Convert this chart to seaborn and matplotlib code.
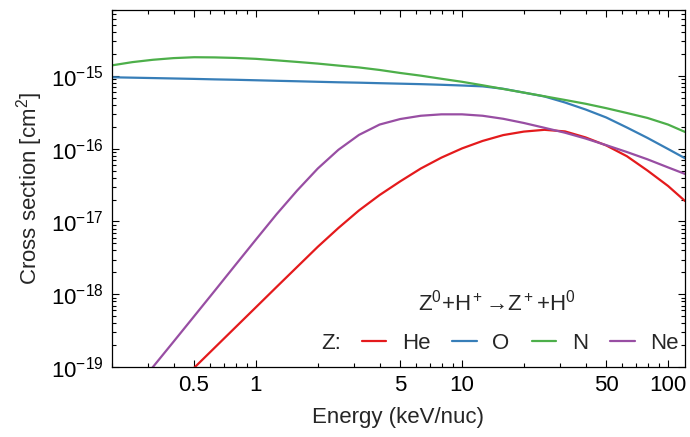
import numpy as np
import pandas as pd
import matplotlib
matplotlib.use("Agg")
import matplotlib.pyplot as plt
import matplotlib.ticker as mticker
from matplotlib.lines import Line2D
import seaborn as sns

# ---- data ----
energy = [0.2, 0.251, 0.316, 0.398, 0.501, 0.631, 0.794, 1.0, 1.259, 1.585, 1.995, 2.512, 3.162,
          3.981, 5.012, 6.31, 7.943, 10.0, 12.59, 15.85, 19.95, 25.12, 31.62, 39.81, 50.12, 63.1,
          79.43, 100.0, 121.0]

sigma_n = [1.40e-15, 1.55e-15, 1.67e-15, 1.76e-15, 1.81e-15, 1.80e-15, 1.77e-15, 1.72e-15, 1.64e-15,
           1.56e-15, 1.48e-15, 1.39e-15, 1.31e-15, 1.21e-15, 1.10e-15, 1.01e-15, 9.15e-16, 8.32e-16,
           7.45e-16, 6.63e-16, 5.91e-16, 5.26e-16, 4.68e-16, 4.15e-16, 3.61e-16, 3.10e-16, 2.65e-16,
           2.15e-16, 1.70e-16]

sigma_o = [9.60e-16, 9.48e-16, 9.36e-16, 9.24e-16, 9.12e-16, 8.98e-16, 8.87e-16, 8.73e-16, 8.59e-16,
           8.46e-16, 8.32e-16, 8.19e-16, 8.09e-16, 7.96e-16, 7.84e-16, 7.72e-16, 7.57e-16, 7.40e-16,
           7.20e-16, 6.67e-16, 5.91e-16, 5.23e-16, 4.32e-16, 3.46e-16, 2.69e-16, 1.96e-16, 1.41e-16,
           9.92e-17, 7.39e-17]

# Ne starts at the 2nd energy point, He at the 4th
sigma_ne = [4.52e-20, 1.00e-19, 2.23e-19, 4.99e-19, 1.12e-18, 2.52e-18, 5.66e-18, 1.26e-17, 2.67e-17,
            5.35e-17, 9.67e-17, 1.55e-16, 2.15e-16, 2.56e-16, 2.84e-16, 2.97e-16, 2.97e-16, 2.84e-16,
            2.58e-16, 2.26e-16, 1.94e-16, 1.66e-16, 1.38e-16, 1.12e-16, 9.02e-17, 7.16e-17, 5.54e-17,
            4.50e-17]

sigma_he = [5.14e-20, 9.75e-20, 1.85e-19, 3.50e-19, 6.64e-19, 1.26e-18, 2.38e-18, 4.49e-18, 8.14e-18,
            1.42e-17, 2.31e-17, 3.56e-17, 5.35e-17, 7.55e-17, 1.01e-16, 1.28e-16, 1.54e-16, 1.72e-16,
            1.82e-16, 1.73e-16, 1.43e-16, 1.11e-16, 7.90e-17, 5.02e-17, 3.08e-17, 1.91e-17]

elements = ["He", "O", "N", "Ne"]
x_major = [0.5, 1, 5, 10, 50, 100]
x_major_labels = ["0.5", "1", "5", "10", "50", "100"]
x_minor = [0.2, 0.3, 0.4, 0.6, 0.7, 0.8, 0.9, 2, 3, 4, 6, 7, 8, 9, 20, 30, 40, 60, 70, 80, 90]
y_major = [1e-19, 1e-18, 1e-17, 1e-16, 1e-15]

series = {"He": sigma_he, "O": sigma_o, "N": sigma_n, "Ne": sigma_ne}
frames = []
for name in elements:
    s = series[name]
    e = energy[len(energy) - len(s):]
    frames.append(pd.DataFrame({"E": e, "sigma": s, "Z": name}))
df = pd.concat(frames, ignore_index=True)

sns.set_style("ticks")
plt.rcParams["font.family"] = ["Liberation Sans", "DejaVu Sans"]
plt.rcParams["mathtext.fontset"] = "custom"
plt.rcParams["mathtext.rm"] = "Liberation Sans"
plt.rcParams["mathtext.it"] = "Liberation Sans:italic"
plt.rcParams["mathtext.bf"] = "Liberation Sans:bold"

set1 = sns.color_palette("Set1")
palette = {"He": set1[0], "O": set1[1], "N": set1[2], "Ne": set1[3]}

fig = plt.figure(figsize=(6.9, 4.37), dpi=100)
ax = fig.add_axes([112 / 690, 1 - 367 / 437, (685 - 112) / 690, (367 - 10) / 437])

sns.lineplot(data=df, x="E", y="sigma", hue="Z", hue_order=elements, palette=palette,
             linewidth=1.6, ax=ax, legend=False, sort=True, estimator=None)

ax.set_xscale("log")
ax.set_yscale("log")
ax.set_xlim(0.2, 120.9)
ax.set_ylim(1e-19, 8.07e-15)

ax.xaxis.set_major_locator(mticker.FixedLocator(x_major))
ax.xaxis.set_major_formatter(mticker.FixedFormatter(x_major_labels))
ax.xaxis.set_minor_locator(mticker.FixedLocator(x_minor))
ax.xaxis.set_minor_formatter(mticker.NullFormatter())
ax.yaxis.set_major_locator(mticker.FixedLocator(y_major))
ax.yaxis.set_major_formatter(mticker.LogFormatterSciNotation())
ax.yaxis.set_minor_locator(mticker.LogLocator(base=10, subs=np.arange(2, 10), numticks=20))
ax.yaxis.set_minor_formatter(mticker.NullFormatter())

ax.tick_params(which="both", direction="in", top=True, right=True, colors="black",
               labelsize=16, width=0.8)
ax.tick_params(which="major", length=5, pad=6)
ax.tick_params(which="minor", length=2.8)
for sp in ax.spines.values():
    sp.set_linewidth(0.9)
    sp.set_color("black")

ax.set_xlabel("Energy (keV/nuc)", fontsize=16, labelpad=8)
ax.set_ylabel("Cross section [cm$^2$]", fontsize=16, labelpad=4)

fig.text(0.720, 0.307, "Z$^0$+H$^+$\u2192Z$^+$+H$^0$", ha="center", va="center", fontsize=16)
fig.text(0.48, 0.215, "Z:", ha="center", va="center", fontsize=16)

handles = [Line2D([], [], color=palette[z], linewidth=1.6) for z in elements]
ax.legend(handles, elements, ncol=4, loc="center", bbox_to_anchor=(0.754, 0.215),
          bbox_transform=fig.transFigure, frameon=False, fontsize=16,
          handlelength=1.1, handletextpad=0.7, columnspacing=1.0, borderpad=0, borderaxespad=0)

fig.savefig("out.png", dpi=100)
